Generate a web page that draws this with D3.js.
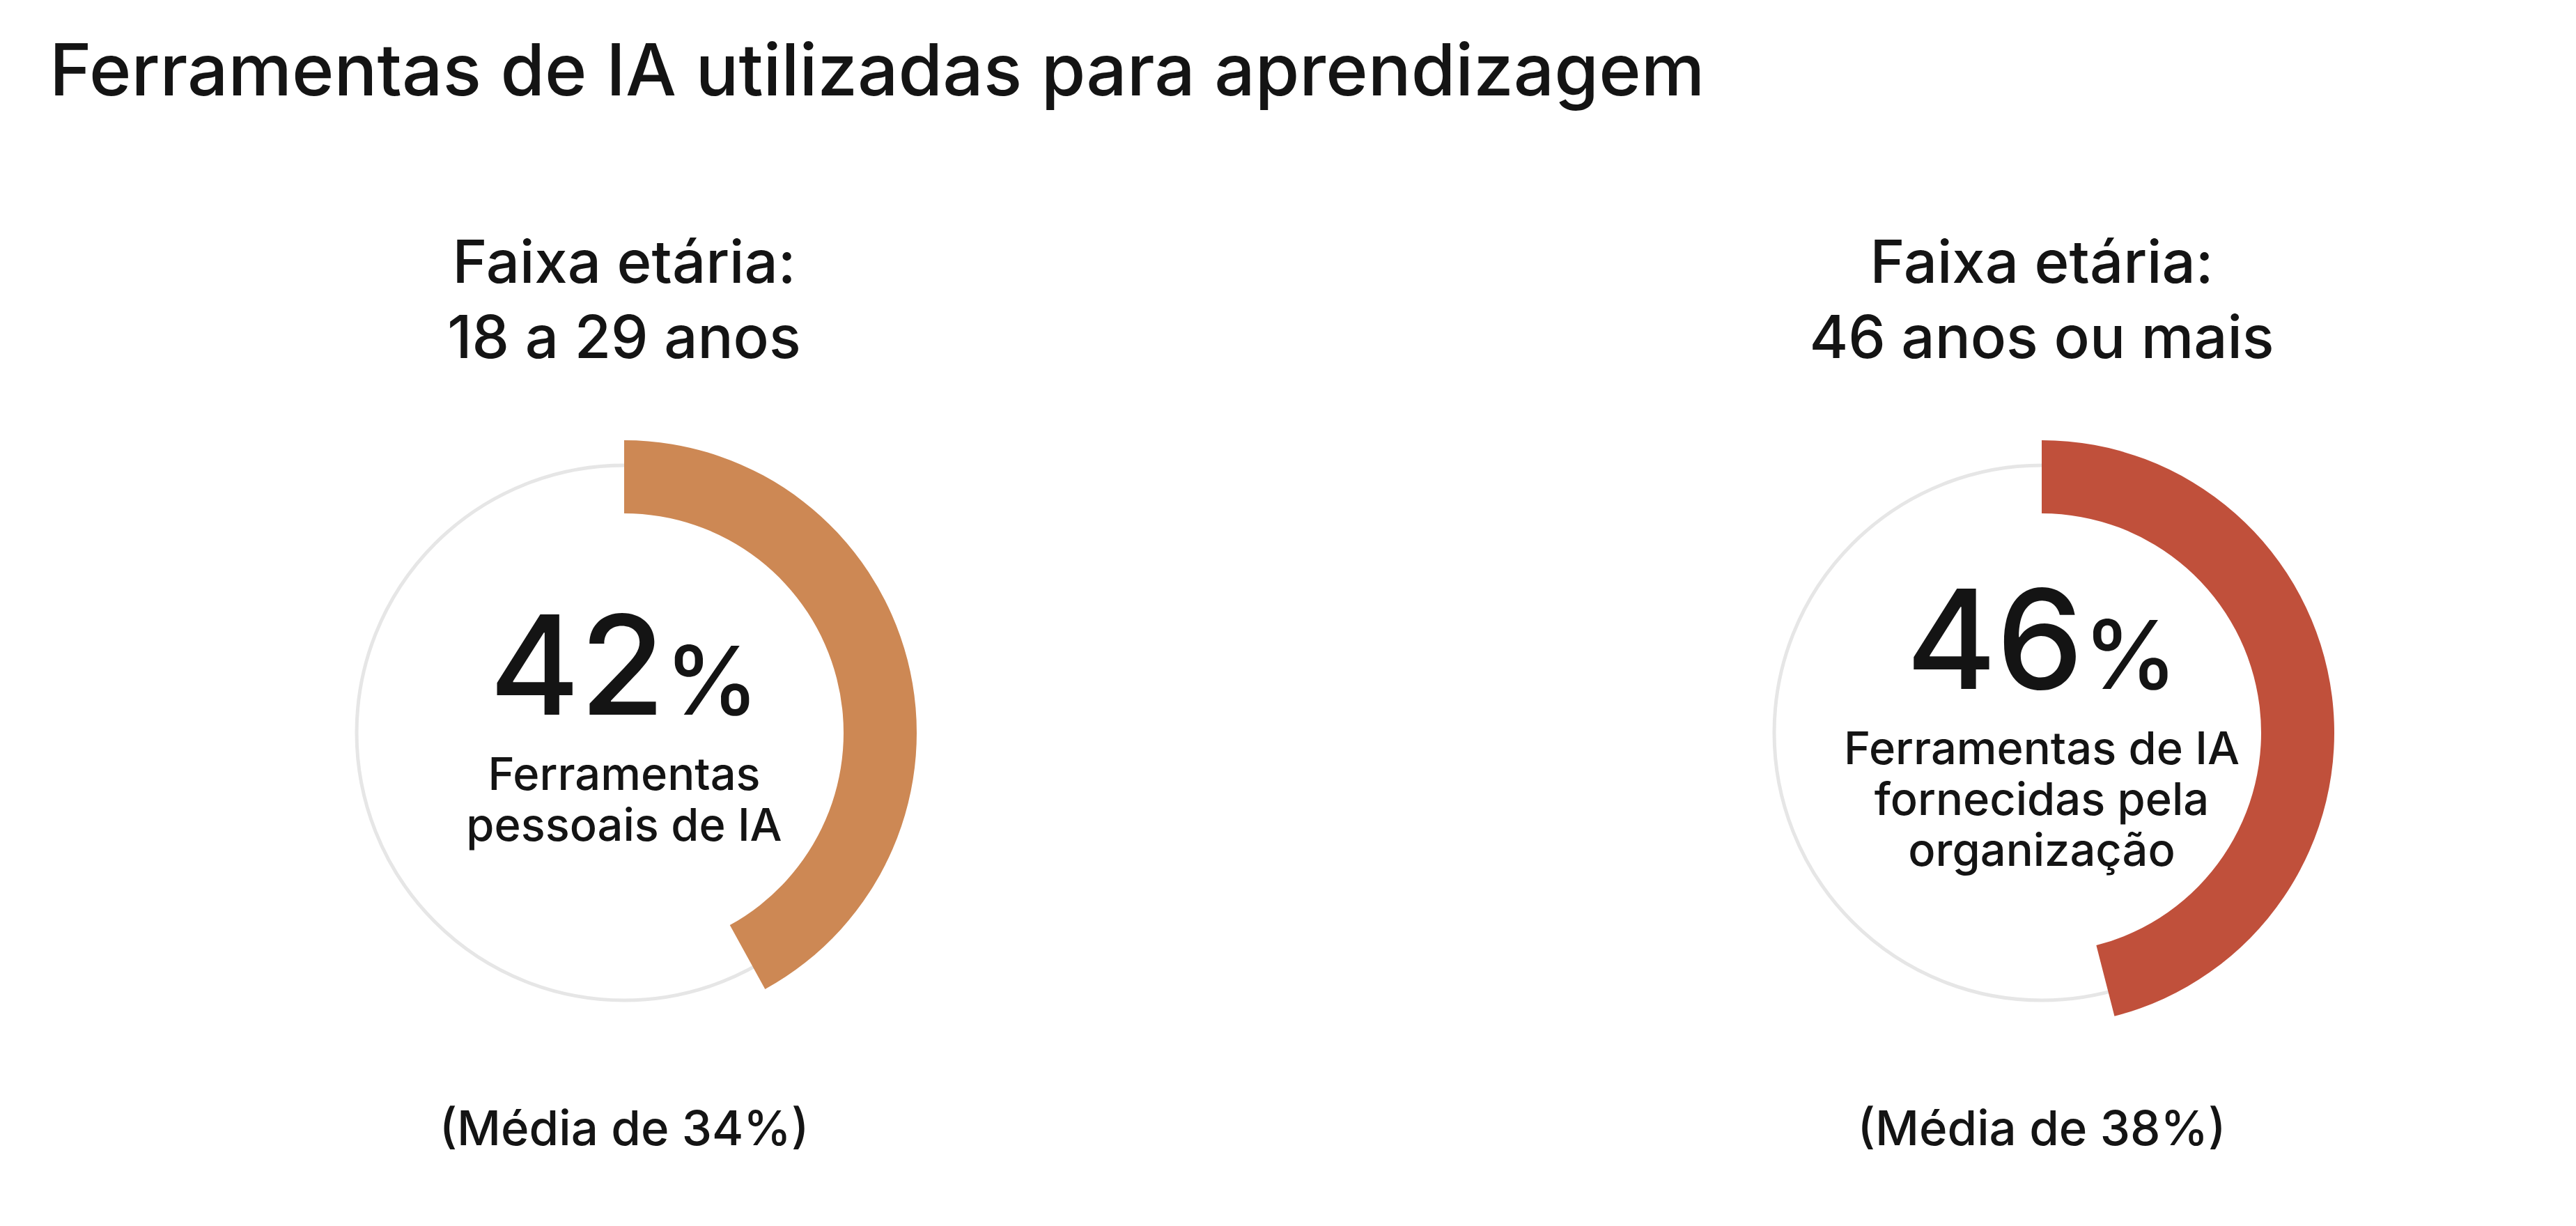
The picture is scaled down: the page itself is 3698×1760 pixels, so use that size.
<!DOCTYPE html>
<html>
<head>
<meta charset="utf-8">
<script src="https://cdn.jsdelivr.net/npm/d3@7"></script>
<style>
  html, body { margin: 0; padding: 0; background: #fff; }
  text { font-family: Inter, "Noto Sans", sans-serif; fill: #141414; font-weight: 500; }
</style>
</head>
<body>
<div id="chart"></div>
<script>
// chart data
const title = "Ferramentas de IA utilizadas para aprendizagem";
const groups = ["Faixa etária:|18 a 29 anos", "Faixa etária:|46 anos ou mais"];
const values = [42, 46];
const labels = ["Ferramentas|pessoais de IA", "Ferramentas de IA|fornecidas pela|organização"];
const averages = [34, 38];
const colors = ["#cd8854", "#c0503b"];

const width = 3698, height = 1760;
const centersX = [896, 2931];
const cy = 1052;

const svg = d3.select("#chart")
    .append("svg")
    .attr("width", width)
    .attr("height", height);

svg.append("text")
    .attr("x", 71)
    .attr("y", 137)
    .style("font-size", "103px")
    .text(title);

// percent -> angle
const angle = d3.scaleLinear().domain([0, 100]).range([0, 2 * Math.PI]);

const arc = d3.arc()
    .innerRadius(315)
    .outerRadius(420)
    .startAngle(0);

const g = svg.selectAll(".donut")
    .data(values)
    .enter()
    .append("g")
    .attr("class", "donut")
    .attr("transform", (d, i) => "translate(" + centersX[i] + "," + cy + ")");

// group heading
g.append("text")
    .attr("text-anchor", "middle")
    .style("font-size", "85px")
    .selectAll("tspan")
    .data((d, i) => groups[i].split("|"))
    .enter()
    .append("tspan")
    .attr("x", 0)
    .attr("y", (d, j) => -646 + j * 108)
    .text(d => d);

// background ring
g.append("circle")
    .attr("r", 384)
    .attr("fill", "none")
    .attr("stroke", "#e6e6e6")
    .attr("stroke-width", 5);

g.append("path")
    .attr("d", d => arc({ endAngle: angle(d) }))
    .attr("fill", (d, i) => colors[i]);

// big number, moved up by the number of label lines
const lineH = 73;
const big = g.append("text")
    .attr("text-anchor", "middle")
    .attr("y", (d, i) => 10 - (labels[i].split("|").length - 1) * lineH / 2)
    .style("font-size", "198px");
big.append("tspan").text(d => d);
big.append("tspan").style("font-size", "136px").text("%");

g.append("text")
    .attr("text-anchor", "middle")
    .style("font-size", "65px")
    .selectAll("tspan")
    .data((d, i) => labels[i].split("|").map(s => ({ s: s, n: labels[i].split("|").length })))
    .enter()
    .append("tspan")
    .attr("x", 0)
    .attr("y", (d, j) => 10 - (d.n - 1) * lineH / 2 + 108 + j * lineH)
    .text(d => d.s);

g.append("text")
    .attr("text-anchor", "middle")
    .attr("y", 1644 - cy)
    .style("font-size", "69px")
    .text((d, i) => "(Média de " + averages[i] + "%)");
</script>
</body>
</html>
